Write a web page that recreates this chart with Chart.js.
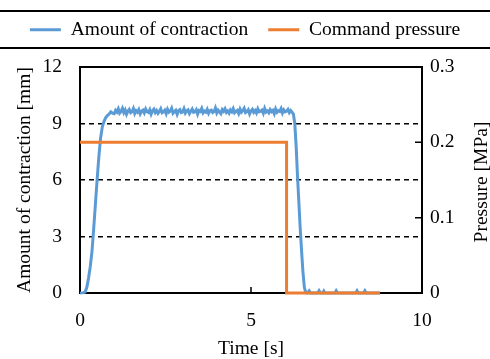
<!DOCTYPE html>
<html>
<head>
<meta charset="utf-8">
<script src="https://cdn.jsdelivr.net/npm/chart.js@4"></script>
<style>
  html, body { margin: 0; padding: 0; background: #fff; }
  #wrap { width: 490px; height: 359px; }
</style>
</head>
<body>
<div id="wrap"><canvas id="contractionChart" width="490" height="359"></canvas></div>
<script>
// Contraction vs command pressure

// Tick values
const timeTicks = [0, 5, 10];
const mmTicks = [0, 3, 6, 9, 12];
const mpaTicks = [0, 0.1, 0.2, 0.3];

// Amount of contraction [mm] - rise
const riseTime = [0, 0.1, 0.15, 0.2, 0.25, 0.3, 0.35, 0.4, 0.45, 0.5, 0.55, 0.6, 0.65, 0.7, 0.75, 0.8, 0.85, 0.9, 0.95];
const riseMm = [0, 0.02, 0.05, 0.3, 0.8, 1.4, 2.2, 3.4, 4.7, 6.0, 7.2, 8.2, 8.8, 9.1, 9.3, 9.42, 9.5, 9.62, 9.55];

// plateau, sampled every 0.04 s from 1.00 s to 6.20 s
const plateauStart = 1.0;
const plateauStep = 0.04;
const plateauMm = [
    9.52, 9.70, 9.61, 9.78, 9.55, 9.64, 9.80, 9.58, 9.72, 9.49,
    9.66, 9.75, 9.57, 9.62, 9.79, 9.53, 9.68, 9.60, 9.74, 9.51,
    9.65, 9.71, 9.56, 9.77, 9.63, 9.59, 9.73, 9.50, 9.67, 9.76,
    9.58, 9.69, 9.54, 9.64, 9.78, 9.57, 9.62, 9.71, 9.52, 9.75,
    9.60, 9.66, 9.81, 9.55, 9.63, 9.70, 9.49, 9.68, 9.74, 9.58,
    9.61, 9.79, 9.56, 9.67, 9.72, 9.53, 9.65, 9.77, 9.59, 9.62,
    9.73, 9.50, 9.69, 9.64, 9.80, 9.57, 9.66, 9.60, 9.75, 9.54,
    9.68, 9.71, 9.58, 9.63, 9.82, 9.56, 9.70, 9.61, 9.52, 9.74,
    9.65, 9.78, 9.59, 9.67, 9.55, 9.72, 9.62, 9.79, 9.57, 9.64,
    9.70, 9.53, 9.76, 9.60, 9.68, 9.81, 9.58, 9.63, 9.73, 9.51,
    9.66, 9.75, 9.59, 9.69, 9.56, 9.78, 9.62, 9.65, 9.71, 9.54,
    9.80, 9.61, 9.67, 9.57, 9.74, 9.63, 9.70, 9.52, 9.77, 9.60,
    9.68, 9.64, 9.79, 9.56, 9.72, 9.62, 9.66, 9.75, 9.58, 9.69,
    9.60
];

// fall after the pressure is released
const fallTime = [6.24, 6.28, 6.32, 6.36, 6.40, 6.44, 6.48, 6.52, 6.56, 6.60];
const fallMm = [9.5, 9.0, 7.8, 6.2, 4.8, 3.4, 2.2, 1.1, 0.3, 0.02];

// rest near zero
const tailTime = [6.64, 6.70, 6.74, 6.95, 6.99, 7.03, 7.10, 7.13, 7.16, 7.45, 7.49, 7.53, 8.06, 8.10, 8.14, 8.29, 8.33, 8.37, 8.77];
const tailMm = [0, 0.12, 0, 0, 0.12, 0, 0, 0.1, 0, 0, 0.12, 0, 0, 0.12, 0, 0, 0.12, 0, 0];

// Command pressure [MPa]
const pressureTime = [0, 6.04, 6.04, 8.77];
const pressureMPa = [0.2, 0.2, 0, 0];

// Build point lists
const contractionPoints = [];
riseTime.forEach((t, i) => contractionPoints.push({ x: t, y: riseMm[i] }));
plateauMm.forEach((v, i) => contractionPoints.push({ x: plateauStart + i * plateauStep, y: v }));
fallTime.forEach((t, i) => contractionPoints.push({ x: t, y: fallMm[i] }));
tailTime.forEach((t, i) => contractionPoints.push({ x: t, y: tailMm[i] }));

const pressurePoints = pressureTime.map((t, i) => ({ x: t, y: pressureMPa[i] }));

const fontFamily = "'Liberation Serif', 'Times New Roman', serif";
Chart.defaults.font.family = fontFamily;
Chart.defaults.font.size = 19.5;
Chart.defaults.color = '#000';

// Frame around plot area + inward tick marks
const framePlugin = {
    id: 'frame',
    beforeDatasetsDraw(chart) {
        const { ctx, chartArea: a, scales } = chart;
        ctx.save();
        ctx.strokeStyle = '#000';
        ctx.lineWidth = 2;
        ctx.strokeRect(a.left, a.top, a.right - a.left, a.bottom - a.top);

        ctx.lineWidth = 1.5;
        ctx.beginPath();
        scales.x.ticks.forEach(t => {
            const px = scales.x.getPixelForValue(t.value);
            ctx.moveTo(px, a.bottom);
            ctx.lineTo(px, a.bottom - 6);
        });
        scales.y1.ticks.forEach(t => {
            const py = scales.y1.getPixelForValue(t.value);
            ctx.moveTo(a.right, py);
            ctx.lineTo(a.right - 7, py);
        });
        ctx.stroke();
        ctx.restore();
    },
    afterDraw(chart) {
        const { ctx, width, chartArea: a } = chart;
        ctx.save();
        // rules above and below the legend
        ctx.strokeStyle = '#000';
        ctx.lineWidth = 2;
        ctx.beginPath();
        ctx.moveTo(0, 11);
        ctx.lineTo(width, 11);
        ctx.moveTo(0, 48);
        ctx.lineTo(width, 48);
        ctx.stroke();

        // right axis title, read bottom to top like the left one
        ctx.translate(481.5, (a.top + a.bottom) / 2 + 2);
        ctx.rotate(-Math.PI / 2);
        ctx.font = '19.5px ' + fontFamily;
        ctx.fillStyle = '#000';
        ctx.textAlign = 'center';
        ctx.textBaseline = 'middle';
        ctx.fillText('Pressure [MPa]', 0, 0);
        ctx.restore();
    }
};

// Extra room between legend and plot
const legendGap = {
    id: 'legendGap',
    beforeInit(chart) {
        const origFit = chart.legend.fit;
        chart.legend.fit = function () {
            origFit.call(this);
            this.height += 17.5;
        };
    }
};

const ctx = document.getElementById('contractionChart').getContext('2d');
const contractionChart = new Chart(ctx, {
    type: 'line',
    data: {
        datasets: [
            {
                label: 'Command pressure',
                data: pressurePoints,
                yAxisID: 'y1',
                borderColor: '#ED7D31',
                backgroundColor: '#ED7D31',
                borderWidth: 3,
                pointRadius: 0,
                tension: 0,
                clip: 5
            },
            {
                label: 'Amount of contraction',
                data: contractionPoints,
                yAxisID: 'y',
                borderColor: '#5B9BD5',
                backgroundColor: '#5B9BD5',
                borderWidth: 3,
                pointRadius: 0,
                tension: 0,
                clip: 5
            }
        ]
    },
    options: {
        responsive: false,
        animation: false,
        layout: { padding: 0 },
        plugins: {
            legend: {
                display: true,
                position: 'top',
                labels: {
                    usePointStyle: true,
                    pointStyle: 'line',
                    pointStyleWidth: 31,
                    padding: 20,
                    sort: (a, b) => b.datasetIndex - a.datasetIndex
                }
            },
            tooltip: { enabled: false }
        },
        scales: {
            x: {
                type: 'linear',
                min: 0,
                max: 10,
                afterBuildTicks: s => { s.ticks = timeTicks.map(v => ({ value: v })); },
                afterFit: s => { s.height = 66; },
                ticks: { padding: 8.5 },
                grid: { display: false },
                border: { display: false },
                title: { display: true, text: 'Time [s]', padding: { top: 0, bottom: -2 } }
            },
            y: {
                position: 'left',
                min: 0,
                max: 12,
                afterBuildTicks: s => { s.ticks = mmTicks.map(v => ({ value: v })); },
                afterFit: s => { s.width = 80; },
                ticks: { padding: 18 },
                grid: {
                    drawTicks: false,
                    lineWidth: 1.5,
                    color: c => (c.tick && c.tick.value > 0 && c.tick.value < 12) ? '#000' : 'rgba(0,0,0,0)'
                },
                border: { display: false, dash: [5, 4] },
                title: { display: true, text: 'Amount of contraction [mm]', padding: { top: 13, bottom: 0 } }
            },
            y1: {
                position: 'right',
                min: 0,
                max: 0.3,
                afterBuildTicks: s => { s.ticks = mpaTicks.map(v => ({ value: v })); },
                afterFit: s => { s.width = 68; },
                ticks: { padding: 8 },
                grid: { display: false, drawTicks: false },
                border: { display: false },
                title: { display: false }
            }
        }
    },
    plugins: [framePlugin, legendGap]
});
</script>
</body>
</html>
